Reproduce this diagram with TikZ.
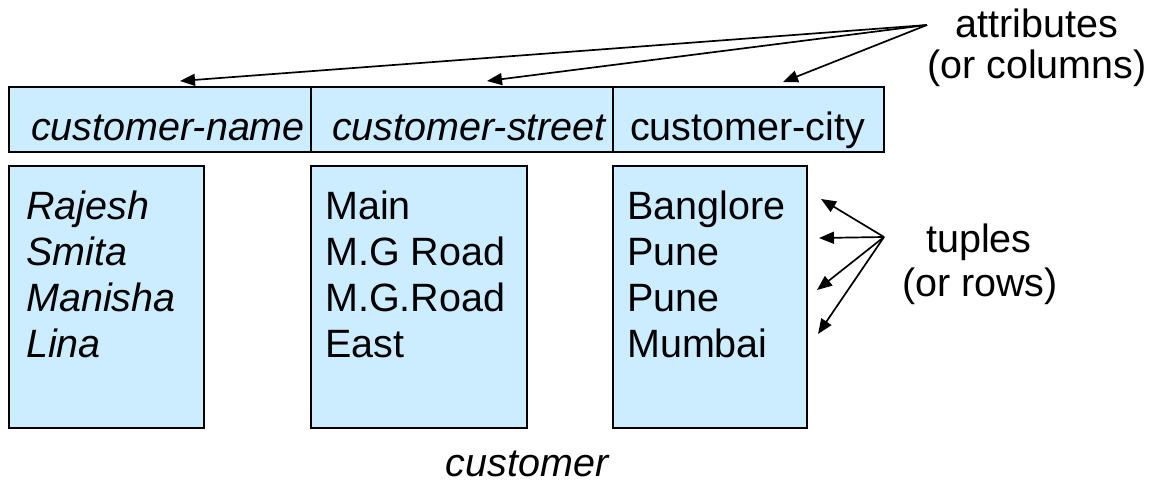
\documentclass[tikz,border=0pt]{standalone}
\usepackage{fontspec}
\setmainfont{Liberation Sans}
\usetikzlibrary{arrows.meta}
\definecolor{cellblue}{HTML}{CCECFF}
\begin{document}
\begin{tikzpicture}[x=1pt,y=-1pt,
  cell/.style={draw=black, line width=1.6pt, fill=cellblue, inner sep=0pt, anchor=north west},
  txt/.style={inner sep=0pt, font=\fontsize{39.5}{46}\selectfont},
  lbl/.style={txt, anchor=base west},
  clbl/.style={txt, anchor=base},
  ptr/.style={line width=1.7pt, -{Triangle[length=15pt,width=12pt]}}]
\useasboundingbox (0,0) rectangle (1152,483);
% header cells
\node[cell, minimum width=302pt, minimum height=65pt] (h1) at (8,86) {};
\node[cell, minimum width=302pt, minimum height=65pt] (h2) at (310,86) {};
\node[cell, minimum width=271pt, minimum height=65pt] (h3) at (612,86) {};
% column cells
\node[cell, minimum width=195pt, minimum height=262pt] (c1) at (8,165) {};
\node[cell, minimum width=216pt, minimum height=262pt] (c2) at (310,165) {};
\node[cell, minimum width=194pt, minimum height=262pt] (c3) at (612,165) {};
% header texts
\node[lbl] (t1) at (31,140) {\itshape customer-name};
\node[lbl] (t2) at (332,140) {\itshape customer-street};
\node[lbl] (t3) at (630,140) {customer-city};
% column texts
\node[lbl] (a1) at (26,219) {\itshape Rajesh};
\node[lbl] (a2) at (26,265) {\itshape Smita};
\node[lbl] (a3) at (26,311) {\itshape Manisha};
\node[lbl] (a4) at (26,357) {\itshape Lina};
\node[lbl] (b1) at (325,219) {Main};
\node[lbl] (b2) at (325,265) {M.G Road};
\node[lbl] (b3) at (325,311) {M.G.Road};
\node[lbl] (b4) at (325,357) {East};
\node[lbl] (d1) at (627,219) {Banglore};
\node[lbl] (d2) at (627,265) {Pune};
\node[lbl] (d3) at (627,311) {Pune};
\node[lbl] (d4) at (627,357) {Mumbai};
% side labels
\node[clbl] (attr) at (1037,37) {attributes};
\node[clbl] (attr2) at (1037,78) {(or columns)};
\node[clbl] (tup) at (979,252) {tuples};
\node[clbl] (tup2) at (980,296) {(or rows)};
\node[clbl] (rel) at (527,476) {\itshape customer};
% arrows
\coordinate (asrc) at (927,25);
\coordinate (ah1) at (180,81);
\coordinate (ah2) at (487,81);
\coordinate (ah3) at (783,82);
\draw[ptr] (asrc) -- (ah1);
\draw[ptr] (asrc) -- (ah2);
\draw[ptr] (asrc) -- (ah3);
\coordinate (tsrc) at (884,237);
\coordinate (tr1) at (821,199);
\coordinate (tr2) at (819,238);
\coordinate (tr3) at (817,290);
\coordinate (tr4) at (818,334);
\draw[ptr] (tsrc) -- (tr1);
\draw[ptr] (tsrc) -- (tr2);
\draw[ptr] (tsrc) -- (tr3);
\draw[ptr] (tsrc) -- (tr4);
\end{tikzpicture}
\end{document}
